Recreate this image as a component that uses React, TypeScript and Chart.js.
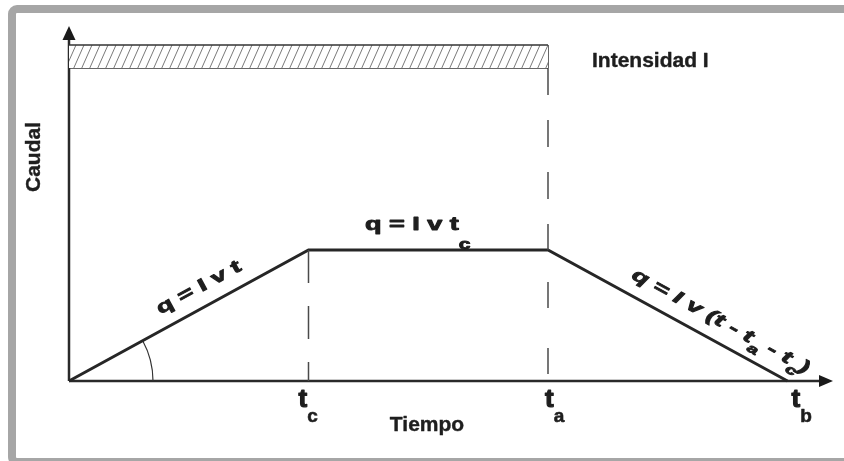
import React, { useEffect, useRef } from 'react';
import { Chart, registerables } from 'chart.js';

Chart.register(...registerables);

// ---- data ----
const timePoints = [0, 1, 2, 3]; // 0, tc, ta, tb
const discharge = [0, 1, 1, 0]; // q
const rainTimes = [0, 2]; // rain from 0 to ta
const rainTop = [2.565, 2.565];
const rainBottom = [2.39, 2.39];
const tickValues = [1, 2, 3];
const tickMain = ['t', 't', 't'];
const tickSubs = ['c', 'a', 'b'];
const X_MAX = 3.19;
const Y_MAX = 2.71;

type Seg = { t: string; sub?: boolean };
const riseFormula: Seg[] = [{ t: 'q = I v t' }];
const plateauFormula: Seg[] = [{ t: 'q = I v t' }, { t: 'c', sub: true }];
const fallFormula: Seg[] = [
  { t: 'q = I v (t - t' },
  { t: 'a', sub: true },
  { t: ' - t' },
  { t: 'c', sub: true },
  { t: ')' },
];

const FF = '"Liberation Sans", Arial, Helvetica, sans-serif';
const INK = '#1e1e1e';

function makeHatch(): CanvasPattern | string {
  const c = document.createElement('canvas');
  const w = 8;
  const h = 18;
  c.width = w;
  c.height = h;
  const g = c.getContext('2d');
  if (!g) return '#ddd';
  g.fillStyle = '#fff';
  g.fillRect(0, 0, w, h);
  g.strokeStyle = '#7a7a7a';
  g.lineWidth = 1;
  g.beginPath();
  g.moveTo(0, h);
  g.lineTo(w, 0);
  g.moveTo(-w, h);
  g.lineTo(0, 0);
  g.moveTo(w, h);
  g.lineTo(2 * w, 0);
  g.stroke();
  const p = g.createPattern(c, 'repeat');
  return p || '#ddd';
}

function roundRectPath(ctx: CanvasRenderingContext2D, x: number, y: number, w: number, h: number, r: number) {
  ctx.beginPath();
  ctx.moveTo(x + r, y);
  ctx.lineTo(x + w - r, y);
  ctx.arcTo(x + w, y, x + w, y + r, r);
  ctx.lineTo(x + w, y + h - r);
  ctx.arcTo(x + w, y + h, x + w - r, y + h, r);
  ctx.lineTo(x + r, y + h);
  ctx.arcTo(x, y + h, x, y + h - r, r);
  ctx.lineTo(x, y + r);
  ctx.arcTo(x, y, x + r, y, r);
  ctx.closePath();
}

function boldText(ctx: CanvasRenderingContext2D, s: string, x: number, y: number, extra: number) {
  ctx.fillText(s, x, y);
  if (extra > 0) {
    ctx.lineWidth = extra;
    ctx.strokeStyle = INK;
    ctx.lineJoin = 'round';
    ctx.strokeText(s, x, y);
  }
}

function drawRich(
  ctx: CanvasRenderingContext2D,
  segs: Seg[],
  x: number,
  y: number,
  angle: number,
  offset: number,
  opts: { font: string; subFont: string; scaleX: number; subDrop: number }
) {
  ctx.save();
  ctx.translate(x, y);
  ctx.rotate(angle);
  ctx.translate(0, -offset);
  ctx.scale(opts.scaleX, 1);
  ctx.textAlign = 'left';
  ctx.textBaseline = 'alphabetic';
  ctx.fillStyle = INK;
  let cx = 0;
  for (const s of segs) {
    ctx.font = s.sub ? opts.subFont : opts.font;
    boldText(ctx, s.t, cx, s.sub ? opts.subDrop : 0, 0.9);
    cx += ctx.measureText(s.t).width;
  }
  ctx.restore();
}

const framePlugin = {
  id: 'frame',
  beforeDraw(chart: any) {
    const ctx: CanvasRenderingContext2D = chart.ctx;
    ctx.save();
    ctx.fillStyle = '#ffffff';
    ctx.fillRect(0, 0, chart.width, chart.height);
    ctx.strokeStyle = '#a6a6a6';
    ctx.lineWidth = 8;
    roundRectPath(ctx, 12, 9, 850, 453, 5);
    ctx.stroke();
    ctx.restore();
  },
};

const axesPlugin = {
  id: 'axesArrows',
  beforeDatasetsDraw(chart: any) {
    const ctx: CanvasRenderingContext2D = chart.ctx;
    const xs = chart.scales.x;
    const ys = chart.scales.y;
    const ox = xs.getPixelForValue(0);
    const oy = ys.getPixelForValue(0);
    const right = xs.getPixelForValue(X_MAX);
    const top = ys.getPixelForValue(Y_MAX);
    ctx.save();
    ctx.strokeStyle = '#2a2a2a';
    ctx.fillStyle = '#1a1a1a';
    ctx.lineWidth = 2.5;
    ctx.beginPath();
    ctx.moveTo(ox, oy);
    ctx.lineTo(right - 10, oy);
    ctx.moveTo(ox, oy);
    ctx.lineTo(ox, top + 10);
    ctx.stroke();
    // arrowheads
    ctx.beginPath();
    ctx.moveTo(right, oy);
    ctx.lineTo(right - 14, oy - 6);
    ctx.lineTo(right - 14, oy + 6);
    ctx.closePath();
    ctx.fill();
    ctx.beginPath();
    ctx.moveTo(ox, top);
    ctx.lineTo(ox - 6.5, top + 14);
    ctx.lineTo(ox + 6.5, top + 14);
    ctx.closePath();
    ctx.fill();
    // angle arc
    const px = xs.getPixelForValue(timePoints[1]);
    const py = ys.getPixelForValue(discharge[1]);
    const ang = Math.atan2(py - oy, px - ox);
    ctx.lineWidth = 1.2;
    ctx.strokeStyle = '#333';
    ctx.beginPath();
    ctx.arc(ox, oy, 84, ang, 0);
    ctx.stroke();
    ctx.restore();
  },
};

const textPlugin = {
  id: 'texts',
  afterDatasetsDraw(chart: any) {
    const ctx: CanvasRenderingContext2D = chart.ctx;
    const xs = chart.scales.x;
    const ys = chart.scales.y;
    const P = timePoints.map((t, i) => ({ x: xs.getPixelForValue(t), y: ys.getPixelForValue(discharge[i]) }));
    const oy = ys.getPixelForValue(0);

    ctx.save();
    ctx.fillStyle = INK;

    // tick labels t_c, t_a, t_b
    const tickOffsets = [-10, -3, 4];
    tickValues.forEach((v, i) => {
      const x = xs.getPixelForValue(v) + tickOffsets[i];
      ctx.font = `bold 26px ${FF}`;
      ctx.textAlign = 'left';
      ctx.textBaseline = 'alphabetic';
      boldText(ctx, tickMain[i], x, oy + 26, 1.2);
      const w = ctx.measureText(tickMain[i]).width;
      ctx.font = `bold 19px ${FF}`;
      boldText(ctx, tickSubs[i], x + w, oy + 41, 0.6);
    });

    // axis titles
    ctx.font = `bold 21px ${FF}`;
    ctx.textAlign = 'center';
    ctx.textBaseline = 'alphabetic';
    boldText(ctx, 'Tiempo', 427, oy + 50, 0.4);
    ctx.save();
    ctx.translate(34, 157);
    ctx.rotate(-Math.PI / 2);
    ctx.textBaseline = 'middle';
    boldText(ctx, 'Caudal', 0, 0, 0.4);
    ctx.restore();

    // rain label
    ctx.textAlign = 'left';
    boldText(ctx, 'Intensidad I', 592, ys.getPixelForValue(rainBottom[0]) - 1, 0.4);

    // formulas along the hydrograph
    const segPoint = (a: { x: number; y: number }, b: { x: number; y: number }, f: number) => ({
      x: a.x + (b.x - a.x) * f,
      y: a.y + (b.y - a.y) * f,
      ang: Math.atan2(b.y - a.y, b.x - a.x),
    });
    const base = { font: `bold 18px ${FF}`, subFont: `bold 14px ${FF}`, scaleX: 1.5 };

    const r = segPoint(P[0], P[1], 0.41);
    drawRich(ctx, riseFormula, r.x, r.y, r.ang, 14.5, { ...base, subDrop: 0 });

    const p = segPoint(P[1], P[2], 0.236);
    drawRich(ctx, plateauFormula, p.x, p.y, p.ang, 20, { ...base, subDrop: 19 });

    const f = segPoint(P[2], P[3], 0.315);
    drawRich(ctx, fallFormula, f.x, f.y, f.ang, 15, {
      font: `italic bold 18px ${FF}`,
      subFont: `italic bold 13px ${FF}`,
      scaleX: 1.5,
      subDrop: 8,
    });

    ctx.restore();
  },
};

export default function App() {
  const ref = useRef<HTMLCanvasElement | null>(null);

  useEffect(() => {
    if (!ref.current) return;
    const hatch = makeHatch();
    const pts = (xsArr: number[], ysArr: number[]) => xsArr.map((x, i) => ({ x, y: ysArr[i] }));
    const common = { pointRadius: 0, clip: false as any, fill: false as any, tension: 0 };

    const chart = new Chart(ref.current, {
      type: 'line',
      data: {
        datasets: [
          {
            ...common,
            label: 'Intensidad I',
            data: pts(rainTimes, rainTop),
            borderColor: '#333',
            borderWidth: 1.5,
            backgroundColor: hatch as any,
            fill: '+1',
          },
          {
            ...common,
            label: 'rain bottom',
            data: pts(rainTimes, rainBottom),
            borderColor: '#333',
            borderWidth: 1.5,
          },
          {
            ...common,
            label: 'rain end',
            data: [
              { x: rainTimes[1], y: rainTop[1] },
              { x: rainTimes[1], y: rainBottom[1] },
            ],
            borderColor: '#333',
            borderWidth: 1.5,
          },
          {
            ...common,
            label: 'tc',
            data: [
              { x: timePoints[1], y: discharge[1] },
              { x: timePoints[1], y: 0 },
            ],
            borderColor: '#4a4a4a',
            borderWidth: 1.5,
            borderDash: [33, 23],
          },
          {
            ...common,
            label: 'ta upper',
            data: [
              { x: timePoints[2], y: rainBottom[1] },
              { x: timePoints[2], y: discharge[2] },
            ],
            borderColor: '#4a4a4a',
            borderWidth: 1.5,
            borderDash: [27, 25],
          },
          {
            ...common,
            label: 'ta lower',
            data: [
              { x: timePoints[2], y: discharge[2] },
              { x: timePoints[2], y: 0 },
            ],
            borderColor: '#4a4a4a',
            borderWidth: 1.5,
            borderDash: [26, 40],
            borderDashOffset: 34,
          },
          {
            ...common,
            label: 'Caudal',
            data: pts(timePoints, discharge),
            borderColor: '#262626',
            borderWidth: 3,
            borderJoinStyle: 'miter',
            borderCapStyle: 'butt',
          },
        ],
      },
      options: {
        animation: false,
        responsive: false,
        devicePixelRatio: 1,
        layout: { padding: { left: 69, right: 11, top: 26, bottom: 80 } },
        scales: {
          x: { type: 'linear', min: 0, max: X_MAX, display: false },
          y: { type: 'linear', min: 0, max: Y_MAX, display: false },
        },
        plugins: {
          legend: { display: false },
          tooltip: { enabled: false },
        },
        events: [],
      },
      plugins: [framePlugin, axesPlugin, textPlugin],
    });
    return () => chart.destroy();
  }, []);

  return (
    <div style={{ position: 'absolute', left: 0, top: 0, width: 844, height: 461, background: '#fff' }}>
      <canvas ref={ref} width={844} height={461} style={{ display: 'block' }} />
    </div>
  );
}
